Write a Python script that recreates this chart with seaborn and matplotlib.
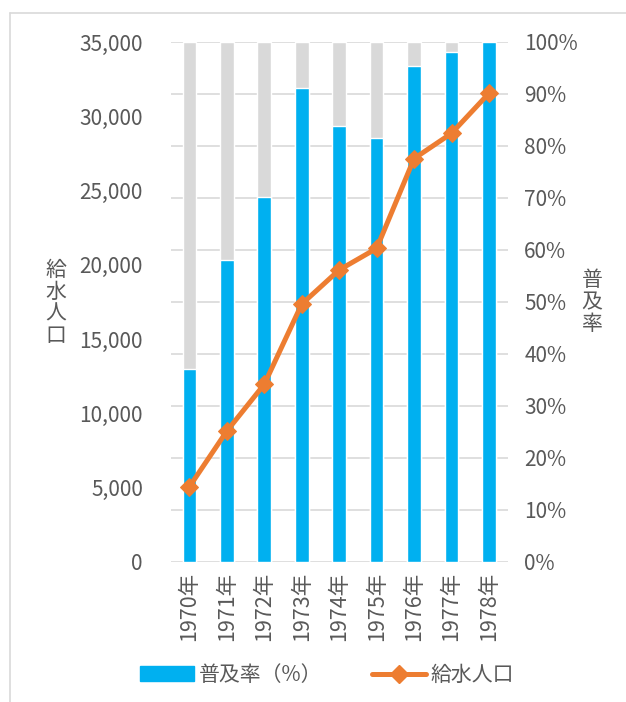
import numpy as np
import pandas as pd
import matplotlib
matplotlib.use("Agg")
import matplotlib.pyplot as plt
from matplotlib.lines import Line2D
from matplotlib.patches import Patch
import seaborn as sns

years = ["1970年", "1971年", "1972年", "1973年", "1974年", "1975年", "1976年", "1977年", "1978年"]
fukyu_rate = [37.0, 58.0, 70.1, 91.1, 83.8, 81.5, 95.4, 98.1, 100.0]   # 普及率 (%)
kyusui_pop = [5050, 8800, 11950, 17350, 19650, 21100, 27150, 28850, 31550]  # 給水人口
full_rate = [100.0] * len(years)
left_ticks = [0, 5000, 10000, 15000, 20000, 25000, 30000, 35000]
right_ticks = [0, 10, 20, 30, 40, 50, 60, 70, 80, 90, 100]

BLUE = "#00B0F0"
GRAY = "#D9D9D9"
ORANGE = "#ED7D31"
TXT = "#595959"

sns.set_theme(style="white")
plt.rcParams["font.family"] = ["Noto Sans CJK JP", "DejaVu Sans"]
CJK = ["Noto Sans CJK JP", "DejaVu Sans"]

df = pd.DataFrame({"year": years, "rate": fukyu_rate, "pop": kyusui_pop, "full": full_rate})

W, H = 626, 702
fig = plt.figure(figsize=(W / 100, H / 100), dpi=100)
fig.patch.set_facecolor("white")

x0, x1 = 170.7 / W, 507.7 / W
y0, y1 = 1 - 561.7 / H, 1 - 42.0 / H
ax_line = fig.add_axes([x0, y0, x1 - x0, y1 - y0])
ax_bar = ax_line.twinx()

# bars on right axis
sns.barplot(data=df, x="year", y="full", ax=ax_bar, color=GRAY, width=0.365,
            saturation=1, zorder=2)
sns.barplot(data=df, x="year", y="rate", ax=ax_bar, color=BLUE, width=0.365,
            saturation=1, zorder=3)
ax_bar.set_ylim(0, 100)
ax_bar.set_yticks(right_ticks)
ax_bar.set_yticklabels([f"{t}%" for t in right_ticks])
ax_bar.yaxis.grid(True, color=GRAY, linewidth=1.2, zorder=0)
ax_bar.set_axisbelow(True)
ax_bar.set_ylabel("")
ax_bar.set_xlabel("")

# line on left axis, drawn above bars
idx = np.arange(len(years))
sns.lineplot(x=idx, y=kyusui_pop, ax=ax_line, color=ORANGE, linewidth=3.6,
             marker="D", markersize=9, markeredgecolor=ORANGE, zorder=5)
ax_line.set_zorder(ax_bar.get_zorder() + 1)
ax_line.patch.set_visible(False)
ax_line.set_ylim(0, 35000)
ax_line.set_yticks(left_ticks)
ax_line.set_yticklabels([f"{t:,}" for t in left_ticks])
ax_line.set_xlim(-0.5, len(years) - 0.5)
ax_line.set_xticks(idx)
ax_line.set_xticklabels(years, rotation=90)
ax_bar.set_xlim(-0.5, len(years) - 0.5)
ax_line.set_xlabel("")
ax_line.set_ylabel("")
ax_line.grid(False)

for a in (ax_line, ax_bar):
    for s in a.spines.values():
        s.set_visible(False)
    a.tick_params(length=0, labelsize=15, labelcolor=TXT)
ax_line.tick_params(axis="y", pad=20)
ax_bar.tick_params(axis="y", pad=12)
ax_line.tick_params(axis="x", pad=7, labelsize=15.5)
ax_bar.tick_params(axis="x", labelbottom=False)

# axis titles, stacked vertical characters
fig.text(56 / W, 1 - 303 / H, "給\n水\n人\n口", ha="center", va="center",
         fontsize=15, color=TXT, family=CJK, linespacing=1.0)
fig.text(592 / W, 1 - 302 / H, "普\n及\n率", ha="center", va="center",
         fontsize=15, color=TXT, family=CJK, linespacing=1.0)

# legend
handles = [Patch(facecolor=BLUE, edgecolor=BLUE),
           Line2D([0], [0], color=ORANGE, linewidth=3.6, marker="D", markersize=9)]
leg = fig.legend(handles, ["普及率（%）", "給水人口"], loc="center",
                 bbox_to_anchor=(327 / W, 1 - 675 / H), ncol=2, frameon=False,
                 prop={"family": CJK, "size": 15}, handlelength=2.6,
                 handletextpad=0.2, columnspacing=2.4)
for t in leg.get_texts():
    t.set_color(TXT)

# outer frame (top and left visible)
fig.add_artist(Line2D([10 / W, 1], [1 - 13 / H, 1 - 13 / H], color=GRAY, linewidth=1.2))
fig.add_artist(Line2D([10 / W, 10 / W], [0, 1 - 13 / H], color=GRAY, linewidth=1.2))

fig.savefig("out.png", dpi=100)
